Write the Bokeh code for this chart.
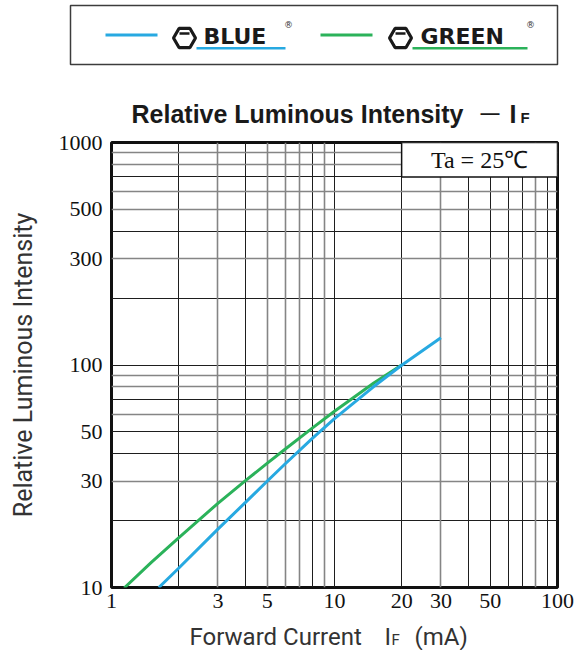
import math
from bokeh.plotting import figure
from bokeh.models import Range1d, FixedTicker, Grid, PrintfTickFormatter
from bokeh.core.properties import value
from bokeh.embed import file_html
from bokeh.resources import INLINE

# ---------------- data ----------------
blue_if = [1.63, 2, 3, 4, 5, 6, 8, 10, 15, 20, 30]
blue_iv = [10.0, 12.2, 18.3, 24.2, 30.1, 35.9, 47.0, 57.4, 80.0, 99.8, 132.6]
green_if = [1.14, 1.5, 2, 3, 4, 5, 6, 8, 10, 15, 20]
green_iv = [9.95, 12.9, 16.7, 23.9, 30.3, 36.2, 41.8, 52.3, 62.0, 83.0, 100.0]

x_tick_values = [1, 3, 5, 10, 20, 30, 50, 100]
y_tick_values = [10, 30, 50, 100, 300, 500, 1000]
x_grid_dark = [2, 4, 8, 10, 20, 40, 50, 60, 70, 90]
x_grid_gray = [3, 5, 6, 7, 9, 30, 80]
y_grid_dark = [20, 40, 50, 70, 100, 200, 400, 700]
y_grid_gray = [30, 60, 80, 90, 300, 500, 600, 800, 900]
x_limits = (1, 100)
y_limits = (10, 1000)

ambient_text = "Ta = 25℃"
ambient_box_x = (20, 100)
ambient_box_y = (700, 1000)

series_names = ["BLUE", "GREEN"]
BLUE = "#27a9e1"
GREEN = "#2bb25a"
INK = "#1a1a1a"
LABEL_INK = "#333333"

# ---------------- layout (page pixels) ----------------
W = 575
HEAD_H, MAIN_H, FOOT_H = 130, 489, 31
HEAD_TOP = 0
MAIN_TOP = HEAD_TOP + HEAD_H
FOOT_TOP = MAIN_TOP + MAIN_H


def plain_fig(height, top):
    f = figure(width=W, height=height, x_range=Range1d(0, W),
               y_range=Range1d(top + height, top),
               output_backend="svg", toolbar_location=None, title=None,
               x_axis_location=None, y_axis_location=None, min_border=0)
    f.grid.visible = False
    f.outline_line_color = None
    f.background_fill_color = "white"
    f.border_fill_color = "white"
    return f


# ---------------- header: legend + title ----------------
head = plain_fig(HEAD_H, HEAD_TOP)
head.quad(left=[70], right=[557], top=[5], bottom=[64], fill_color=None,
          line_color="#3c3c3c", line_width=1.5)

legend_items = [
    # name, color, line x0, x1, logo x, text left, underline x0, x1, reg x
    (series_names[0], BLUE, 105, 157, 184, 203, 196, 285, 288),
    (series_names[1], GREEN, 320, 372, 400, 420, 412, 527, 530),
]
for name, col, lx0, lx1, logo_x, tx, ux0, ux1, rx in legend_items:
    head.segment(x0=[lx0], y0=[34.5], x1=[lx1], y1=[34.5], line_color=col, line_width=3)
    head.scatter(x=[logo_x], y=[37.5], marker="hex", size=22, fill_color=None,
                 line_color=INK, line_width=3.2)
    head.segment(x0=[logo_x - 5], y0=[33], x1=[logo_x + 5], y1=[33],
                 line_color=INK, line_width=2.5)
    head.text(x=[tx], y=[36.3], text=[name], text_font=value("DejaVu Sans"),
              text_font_style="bold", text_font_size="22px", text_color=INK,
              text_align="left", text_baseline="middle")
    head.segment(x0=[ux0], y0=[47.7], x1=[ux1], y1=[47.7], line_color=col, line_width=2.5)
    head.text(x=[rx], y=[24], text=["®"], text_font=value("DejaVu Sans"),
              text_font_size="9px", text_color=LABEL_INK,
              text_align="center", text_baseline="middle")

title_parts = [
    # text, x, middle y, size
    ("Relative Luminous Intensity", 131, 113.3, "25px"),
    ("—", 480, 112.3, "19px"),
    ("I", 509, 113.3, "25px"),
    ("F", 520, 116.6, "15px"),
]
for txt, tx, ty, size in title_parts:
    head.text(x=[tx], y=[ty], text=[txt], text_font=value("Liberation Sans"),
              text_font_style="bold", text_font_size=size, text_color=INK,
              text_align="left", text_baseline="middle")

# ---------------- main chart ----------------
p = figure(width=W, height=MAIN_H, x_axis_type="log", y_axis_type="log",
           x_range=Range1d(*x_limits), y_range=Range1d(*y_limits),
           output_backend="svg", toolbar_location=None, title=None,
           min_border_left=111, min_border_right=18, min_border_top=12, min_border_bottom=32)
p.background_fill_color = "white"
p.border_fill_color = "white"
p.outline_line_color = "#111111"
p.outline_line_width = 3

p.xgrid.ticker = FixedTicker(ticks=x_grid_dark)
p.xgrid.grid_line_color = "#1e1e1e"
p.xgrid.grid_line_width = 1
p.ygrid.ticker = FixedTicker(ticks=y_grid_dark)
p.ygrid.grid_line_color = "#1e1e1e"
p.ygrid.grid_line_width = 1
p.add_layout(Grid(dimension=0, ticker=FixedTicker(ticks=x_grid_gray),
                  grid_line_color="#858585", grid_line_width=1.6))
p.add_layout(Grid(dimension=1, ticker=FixedTicker(ticks=y_grid_gray),
                  grid_line_color="#858585", grid_line_width=1.6))

for ax in (p.xaxis[0], p.yaxis[0]):
    ax.axis_line_color = None
    ax.major_tick_line_color = None
    ax.minor_tick_line_color = None
    ax.major_tick_out = 0
    ax.major_tick_in = 0
    ax.minor_tick_out = 0
    ax.minor_tick_in = 0
    ax.major_label_text_font = "Liberation Serif"
    ax.major_label_text_font_size = "22px"
    ax.major_label_text_color = "#111111"
    ax.formatter = PrintfTickFormatter(format="%d")
p.xaxis.ticker = FixedTicker(ticks=x_tick_values)
p.yaxis.ticker = FixedTicker(ticks=y_tick_values)
p.xaxis.major_label_standoff = 6
p.yaxis.major_label_standoff = 9

p.yaxis.axis_label = "Relative Luminous Intensity"
p.yaxis.axis_label_text_font = "Roboto"
p.yaxis.axis_label_text_font_style = "normal"
p.yaxis.axis_label_text_font_size = "25px"
p.yaxis.axis_label_text_color = LABEL_INK
p.yaxis.axis_label_standoff = 18

p.quad(left=[ambient_box_x[0]], right=[ambient_box_x[1]],
       bottom=[ambient_box_y[0]], top=[ambient_box_y[1]],
       fill_color="white", line_color="#111111", line_width=1.5)
p.text(x=[math.sqrt(ambient_box_x[0] * ambient_box_x[1])],
       y=[math.sqrt(ambient_box_y[0] * ambient_box_y[1])],
       text=[ambient_text], text_font=value("Liberation Serif"), text_font_size="24px",
       text_color="#111111", text_align="center", text_baseline="middle")

p.line(green_if, green_iv, line_color=GREEN, line_width=3)
p.line(blue_if, blue_iv, line_color=BLUE, line_width=3)

# ---------------- footer: x axis title ----------------
foot = plain_fig(FOOT_H, FOOT_TOP)
xlabel_parts = [
    # text, x, middle y, size
    ("Forward Current", 189, 636, "24px"),
    ("I", 384, 636, "24px"),
    ("F", 391, 639.3, "15px"),
    ("(mA)", 414, 636, "24px"),
]
for txt, tx, ty, size in xlabel_parts:
    foot.text(x=[tx], y=[ty], text=[txt], text_font=value("Roboto"),
              text_font_size=size, text_color=LABEL_INK,
              text_align="left", text_baseline="middle")

open("out.html", "w").write(file_html([head, p, foot], INLINE))
